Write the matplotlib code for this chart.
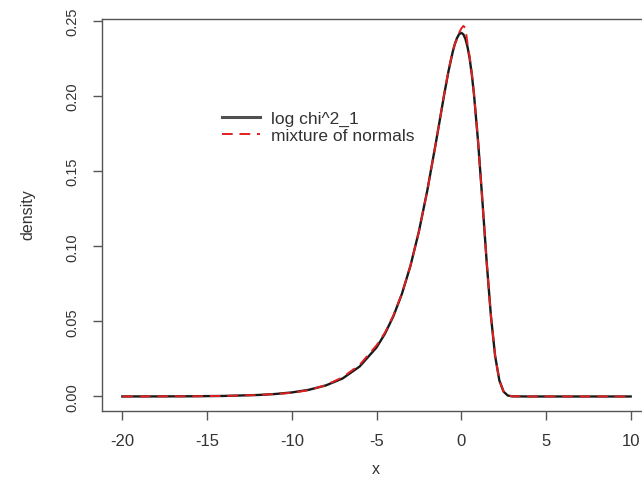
import numpy as np
import matplotlib
matplotlib.use('Agg')
import matplotlib.pyplot as plt

plt.rcParams['font.family'] = ['Liberation Sans', 'DejaVu Sans']
plt.rcParams['axes.unicode_minus'] = False

# values
x_grid = [-20, -18, -16, -14, -12, -11, -10, -9, -8, -7, -6, -5, -4.5, -4, -3.5,
          -3, -2.5, -2, -1.5, -1, -0.75, -0.5, -0.375, -0.25, -0.125, 0, 0.125,
          0.25, 0.375, 0.5, 0.625, 0.75, 1, 1.25, 1.5, 1.75, 2, 2.25, 2.5, 2.75,
          3, 4, 6, 8, 10]
log_chi2_dens = [0.00002, 0.00005, 0.00013, 0.00036, 0.00099, 0.00163, 0.00269,
                 0.00443, 0.00731, 0.0120, 0.0199, 0.0326, 0.0418, 0.0535, 0.0683,
                 0.0868, 0.1097, 0.1372, 0.1686, 0.2013, 0.2165, 0.2294, 0.2346,
                 0.2385, 0.2411, 0.2420, 0.2410, 0.2379, 0.2325, 0.2247, 0.2143,
                 0.2014, 0.1690, 0.1301, 0.0898, 0.0539, 0.0270, 0.0107, 0.0032,
                 0.00063, 0.00008, 0, 0, 0, 0]
mixture_dens = [0.00002, 0.00005, 0.00013, 0.00036, 0.00099, 0.00165, 0.0024,
                0.0042, 0.0075, 0.0128, 0.0210, 0.0340, 0.0425, 0.0540, 0.0685,
                0.0868, 0.1095, 0.1370, 0.1686, 0.2015, 0.2170, 0.2300, 0.2345,
                0.2380, 0.2420, 0.2448, 0.2466, 0.2452, 0.2345, 0.2260, 0.2150,
                0.2018, 0.1688, 0.1300, 0.0898, 0.0540, 0.0272, 0.0108, 0.0033,
                0.0007, 0.0001, 0, 0, 0, 0]
legend_labels = ['log chi^2_1', 'mixture of normals']

W, H = 642, 485
fig = plt.figure(figsize=(W / 100, H / 100), dpi=100)
ax = fig.add_axes([102 / W, 73 / H, 549 / W, 392 / H])

ax.plot(x_grid, log_chi2_dens, color='#1a1a1a', lw=1.7, label=legend_labels[0])
ax.plot(x_grid, mixture_dens, color='#e02020', lw=1.4, dashes=(5.5, 3.5),
        label=legend_labels[1])

ax.set_xlim(-21.2, 11.2)
ax.set_ylim(-0.00966, 0.2512)
ax.set_xticks(np.arange(-20, 11, 5))
ax.set_yticks(np.arange(0, 0.26, 0.05))
ax.set_yticklabels(['%.2f' % v for v in np.arange(0, 0.26, 0.05)],
                   rotation=90, va='center')

for s in ax.spines.values():
    s.set_color('#555555')
    s.set_linewidth(1.0)
ax.tick_params(direction='out', length=6.5, width=1.0, color='#555555',
               labelcolor='#333333')
ax.tick_params(axis='x', labelsize=12, pad=9)
ax.tick_params(axis='y', labelsize=10.5, pad=10)

fig.text(376 / W, 1 - 470 / H, 'x', ha='center', va='center', fontsize=11.5,
         color='#333333')
fig.text(28 / W, 1 - 215 / H, 'density', ha='center', va='center',
         rotation=90, fontsize=11.5, color='#333333')

leg = ax.legend(loc='upper left', bbox_to_anchor=(222 / W, 1 - 112 / H),
                bbox_transform=fig.transFigure, frameon=False, fontsize=12.5,
                handlelength=2.2, handletextpad=0.6, labelspacing=0.1,
                borderpad=0, borderaxespad=0, labelcolor='#333333')
leg.get_lines()[0].set_color('#505050')
leg.get_lines()[0].set_linewidth(2.2)

fig.savefig('out.png', dpi=100)
